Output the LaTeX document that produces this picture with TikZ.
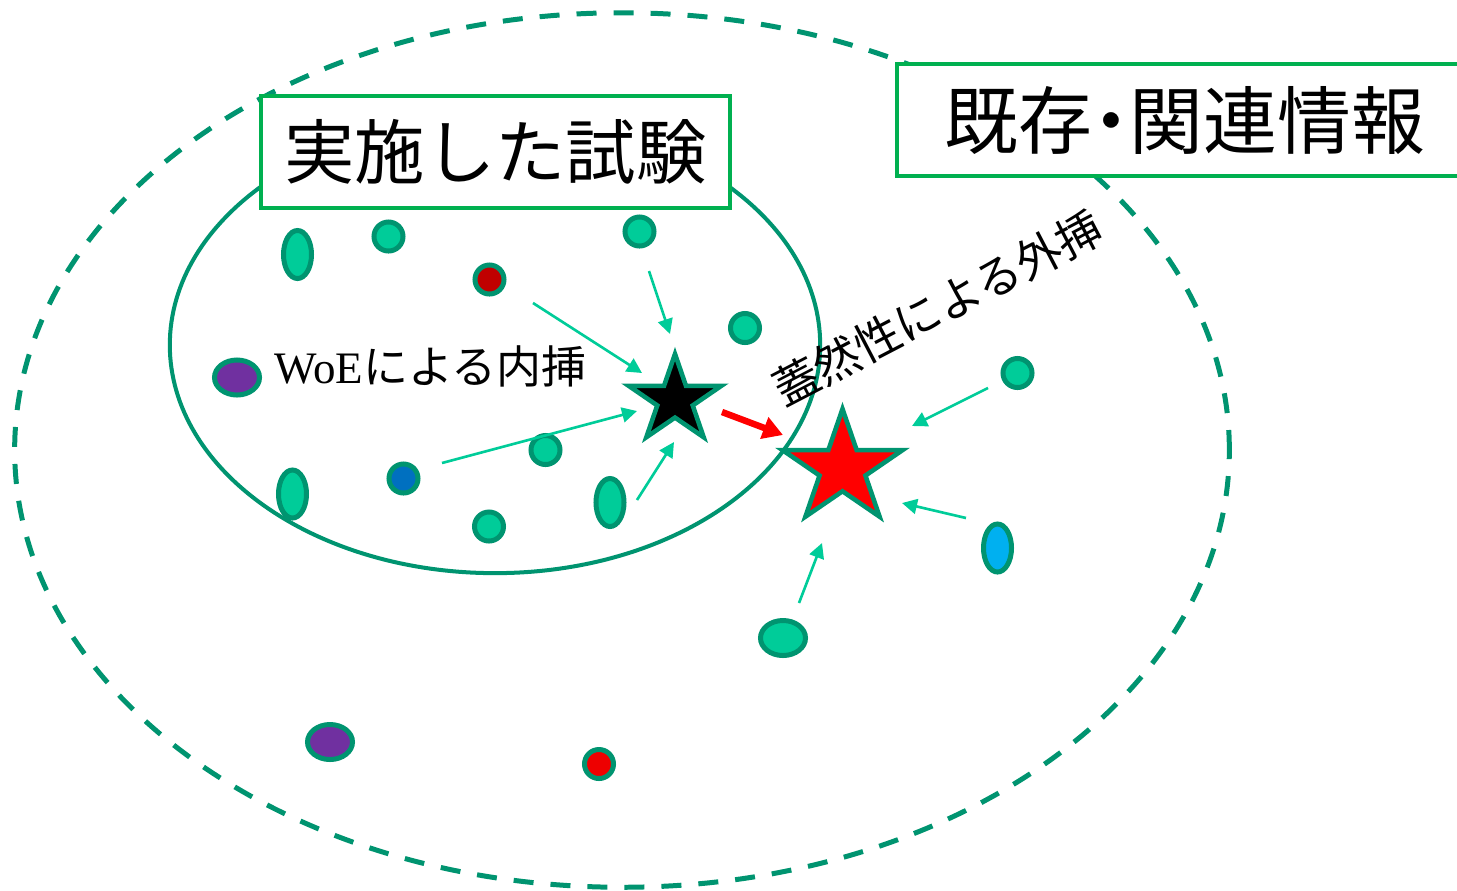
\documentclass[tikz,border=0pt]{standalone}
\usepackage{fontspec}
\setmainfont{Liberation Serif}
\newfontfamily\jp{Noto Sans CJK JP}
\usetikzlibrary{shapes.geometric,arrows.meta}
\definecolor{tealD}{RGB}{0,148,112}
\definecolor{tealF}{RGB}{0,204,153}
\definecolor{boxG}{RGB}{0,176,80}
\definecolor{dkred}{RGB}{192,0,0}
\definecolor{dotblue}{RGB}{0,112,192}
\definecolor{dotpurple}{RGB}{112,48,160}
\definecolor{dotred}{RGB}{238,0,0}
\definecolor{ltblue}{RGB}{0,176,240}
\begin{document}
\begin{tikzpicture}[x=0.01cm,y=-0.01cm,
  dotbase/.style={draw=tealD, line width=1.42pt, fill=#1, inner sep=0pt},
  dotc/.style={dotbase=#1, circle, minimum size=0.29cm},
  dotv/.style={dotbase=#1, ellipse, minimum width=0.28cm, minimum height=0.48cm},
  doth/.style={dotbase=#1, ellipse, minimum width=0.45cm, minimum height=0.35cm},
  arr/.style={draw=tealF, line width=0.75pt, -{Triangle[length=0.15cm,width=0.15cm]}},
  redarr/.style={draw=red, line width=1.85pt, -{Triangle[length=0.2cm,width=0.22cm]}},
  titlebox/.style={draw=boxG, line width=1.14pt, fill=white, inner sep=0pt,
    minimum height=1.12cm, font=\jp\fontsize{20pt}{24pt}\selectfont},
  starS/.style={star, star points=5, star point ratio=2.618, draw=tealD,
    line width=1.3pt, inner sep=0pt, transform shape}]
\useasboundingbox (0,0) rectangle (1457,890);
\clip (0,0) rectangle (1457,890);
% outer dashed ellipse
\draw[tealD, line width=1.42pt, dash pattern=on 0.2cm off 0.17cm]
  (622,450) ellipse [x radius=6.07cm, y radius=4.37cm];
% inner ellipse
\draw[tealD, line width=1.14pt] (495,345) ellipse [x radius=3.25cm, y radius=2.28cm];
% title boxes
\node[titlebox, minimum width=4.69cm] (b1) at (495.5,152) {実施した試験};
\node[titlebox, minimum width=5.76cm, font=\jp\fontsize{21pt}{25pt}\selectfont] (b2) at (1185,120) {既存\makebox[0.5em]{・}関連情報};
% dots
\node[dotv=tealF] (d1) at (297.5,254.5) {};
\node[dotc=tealF] (d2) at (388.5,236.5) {};
\node[dotc=dkred] (d3) at (489.5,279.5) {};
\node[dotc=tealF] (d4) at (639.5,231.5) {};
\node[dotc=tealF] (d5) at (745,328) {};
\node[doth=dotpurple] (d6) at (237,377.5) {};
\node[dotc=tealF] (d7) at (545.5,450) {};
\node[dotc=dotblue] (d8) at (403.5,478.5) {};
\node[dotv=tealF] (d9) at (292.5,494) {};
\node[dotc=tealF] (d10) at (489,526.5) {};
\node[dotv=tealF] (d11) at (610,502.5) {};
\node[dotc=tealF] (d12) at (1017.5,373) {};
\node[dotv=ltblue] (d13) at (997.5,548) {};
\node[doth=tealF] (d14) at (783,638) {};
\node[doth=dotpurple] (d15) at (330,742) {};
\node[dotc=dotred] (d16) at (599,764) {};
% stars
\begin{scope}[shift={(675,400)}, xscale=1.06]
  \node[starS, fill=black, minimum size=0.92cm] (bs) at (0,0) {};
\end{scope}
\begin{scope}[shift={(842.5,468.5)}, xscale=1.06]
  \node[starS, fill=red, minimum size=1.19cm] (rs) at (0,0) {};
\end{scope}
% arrow end points
\coordinate (a1s) at (649,271); \coordinate (a1e) at (670,334);
\coordinate (a2s) at (533,303); \coordinate (a2e) at (642,373);
\coordinate (a3s) at (442,463); \coordinate (a3e) at (637,411);
\coordinate (a4s) at (637,500); \coordinate (a4e) at (674,442);
\coordinate (a5s) at (988,388); \coordinate (a5e) at (912,426);
\coordinate (a6s) at (966,518); \coordinate (a6e) at (902,503);
\coordinate (a7s) at (799,603); \coordinate (a7e) at (822,543);
\coordinate (rs0) at (722,412); \coordinate (rs1) at (783,435);
\draw[arr] (a1s) -- (a1e);
\draw[arr] (a2s) -- (a2e);
\draw[arr] (a3s) -- (a3e);
\draw[arr] (a4s) -- (a4e);
\draw[arr] (a5s) -- (a5e);
\draw[arr] (a6s) -- (a6e);
\draw[arr] (a7s) -- (a7e);
\draw[redarr] (rs0) -- (rs1);
% labels
\node[inner sep=0pt, font=\fontsize{12.8pt}{15pt}\selectfont] (woe) at (430.5,366) {WoE{\jp による内挿}};
\node[inner sep=0pt, rotate=27.5, font=\jp\fontsize{13pt}{15pt}\selectfont] (lik) at (937.5,307.5) {蓋然性による外挿};
\end{tikzpicture}
\end{document}
